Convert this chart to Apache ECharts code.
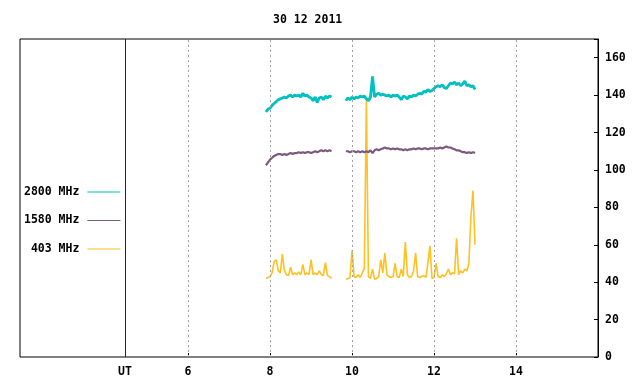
<!DOCTYPE html>
<html>
<head>
<meta charset="utf-8">
<script src="https://cdn.jsdelivr.net/npm/echarts@6/dist/echarts.min.js"></script>
<style>html,body{margin:0;padding:0;background:#fff}#c{width:640px;height:384px}</style>
</head>
<body>
<div id="c"></div>
<script>
// ---- data ----
const title = '30 12 2011';
const seriesNames = ['2800 MHz', '1580 MHz', '403 MHz'];
const xTicks = [6, 8, 10, 12, 14];
const utPos = 4.46;
const yTicksMax = 160;

const times1 = [7.90,7.95,8.00,8.05,8.10,8.15,8.20,8.25,8.30,8.35,8.40,8.45,8.50,8.55,8.60,8.65,8.70,8.75,8.80,8.85,8.90,8.95,9.00,9.05,9.10,9.15,9.20,9.25,9.30,9.35,9.40,9.45,9.50];
const times2 = [9.85,9.90,9.95,
  10.00,10.05,10.10,10.15,10.20,10.25,10.30,10.35,10.40,10.45,10.50,10.55,10.60,10.65,10.70,10.75,10.80,10.85,10.90,10.95,
  11.00,11.05,11.10,11.15,11.20,11.25,11.30,11.35,11.40,11.45,11.50,11.55,11.60,11.65,11.70,11.75,11.80,11.85,11.90,11.95,
  12.00,12.05,12.10,12.15,12.20,12.25,12.30,12.35,12.40,12.45,12.50,12.55,12.60,12.65,12.70,12.75,12.80,12.85,12.90,12.95,
  13.00];
const gapTime = 9.7;

const f2800a = [131,132.5,133,134.5,135.5,136.5,137.5,138,138.5,139,138.5,139.5,140,139,140,139.5,140,139,141,139.5,140,139,138.5,137,139,136,138.5,139,137.5,139.5,138.5,139.5,139];
const f2800b = [137,138.5,137.5,
  139,138,139,138.5,139.5,139,139.5,138,137,139,150,139,140.5,141,140,140.5,140,139.5,140,139,
  140,139.5,140,139,137.5,139.5,139,138,139.5,139,140,139.5,140.5,141,140.5,142,141.5,143,142,142.5,
  143.5,144.5,145,144.5,145.5,144,143.5,145,146.5,146,147,145.5,146.5,145,146,147.5,145,145.5,144.5,145,
  143];

const f1580a = [102.5,104,105.5,106.5,107.5,108,108.5,108.5,108,108.5,108,108.5,109,108.5,109,109,109.5,109,109.5,109,109.5,109.5,109,109.5,110,109.5,110,110.5,110,110.5,110,110.5,110];
const f1580b = [110,110,109.5,
  110,110,109.5,110,109.5,110,109.5,110,109.5,110.5,109,110.5,111,110.5,111,111.5,112,111.5,111.5,111,
  111.5,111,111.5,111,111,110.5,111,110.5,111,111,111.5,111,111.5,111.5,111,111.5,111.5,111,111.5,111.5,
  111.5,111.5,111.5,112,111.5,112,112.5,112,112,111.5,111,110.5,110.5,110,109.5,109.5,109,109.5,109,109.5,
  109];

const f403a = [42,42.5,43,45,51,52,46,45,55,46,44,43.5,48,44,45,44,45.5,44,49.5,44,45,44,52,44,45,44,46,44,43.5,50.5,43.5,43,42];
const f403b = [41.5,42,42.5,
  57,43,42.5,44,42.5,45,47.5,137,43,42,47,41.5,42,43,52,45,55.5,44,43,42.5,
  43,50,43,42.5,47,43,61.5,44,42.5,43,46,55.5,43,42.5,43,43.5,42.5,50,59.5,42,
  42.5,50,43,42.5,44,43,44.5,47,44,45,44.5,63.5,44,46,45,47,46,50,75,89,
  60];

// ---- build ----
function build(a, b) {
  const d = times1.map((t, i) => [t, a[i]]);
  d.push([gapTime, null]);
  return d.concat(times2.map((t, i) => [t, b[i]]));
}
const font = { fontFamily: 'DejaVu Sans Mono', fontWeight: 'bold', fontSize: 11.5, color: '#000' };
const colors = ['#00c0c0', '#7b5a7d', '#ffc020'];
const widths = [2.8, 2.2, 1.6];
const valuesA = [f2800a, f1580a, f403a];
const valuesB = [f2800b, f1580b, f403b];

const series = seriesNames.map((n, k) => ({
  name: n, type: 'line', symbol: 'none', showSymbol: false, smooth: false,
  data: build(valuesA[k], valuesB[k]),
  lineStyle: { color: colors[k], width: widths[k], join: 'bevel' },
  itemStyle: { color: colors[k] },
  z: 4 - k, animation: false
}));
series.push({
  type: 'line', data: [], z: 10, silent: true, animation: false,
  markLine: {
    silent: true, symbol: 'none', animation: false, label: { show: false },
    data: xTicks.map(v => ({ xAxis: v, lineStyle: { color: '#a0a0a0', type: [2, 3], width: 1 } }))
      .concat([{ xAxis: utPos, lineStyle: { color: '#7f0000', type: 'solid', width: 1 } }])
  }
});

const chart = echarts.init(document.getElementById('c'), null, { renderer: 'canvas' });
chart.setOption({
  animation: false,
  backgroundColor: '#fff',
  title: { text: title, left: 268, top: 9, textStyle: Object.assign({}, font) },
  legend: {
    orient: 'vertical', left: 19, top: 181, align: 'right',
    itemWidth: 33, itemHeight: 14, itemGap: 16.5,
    icon: 'path://M0,0 L33,0 L33,1 L0,1 Z',
    data: seriesNames,
    formatter: n => n.padStart(8, ' '),
    textStyle: Object.assign({ padding: [0, 3, 0, 0] }, font)
  },
  grid: { left: 20, right: 42, top: 39, bottom: 27, show: true, borderColor: '#000', borderWidth: 1, backgroundColor: 'transparent' },
  xAxis: {
    type: 'value', min: 1.9, max: 16,
    axisLine: { show: false },
    splitLine: { show: false },
    axisTick: { show: true, inside: true, length: 4, customValues: xTicks, lineStyle: { color: '#000' } },
    axisLabel: Object.assign({
      customValues: [utPos].concat(xTicks), margin: 9,
      formatter: v => (Math.abs(v - utPos) < 1e-6 ? '{ut|UT}' : String(v)),
      rich: { ut: Object.assign({ padding: [0, 0, 5, 0] }, font) }
    }, font)
  },
  yAxis: {
    type: 'value', position: 'right', min: 0, max: 170, interval: 20,
    axisLine: { show: true, lineStyle: { color: '#000' } },
    splitLine: { show: false },
    axisTick: { show: true, inside: true, length: 4, lineStyle: { color: '#000' } },
    axisLabel: Object.assign({ margin: 7, formatter: v => (v > yTicksMax ? '' : String(v)) }, font)
  },
  series: series
});
</script>
</body>
</html>
